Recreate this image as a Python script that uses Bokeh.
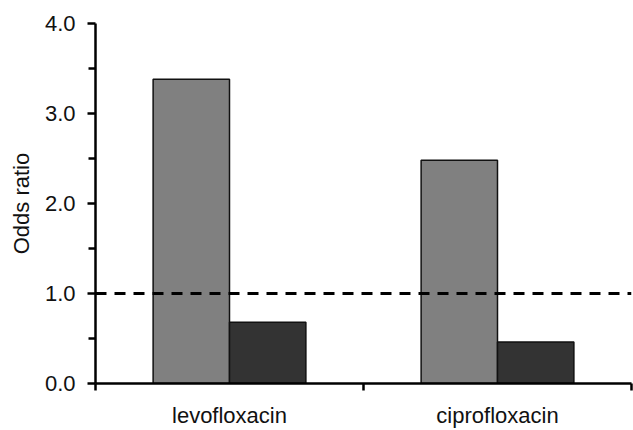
from bokeh.plotting import figure
from bokeh.models import Span, FixedTicker, ColumnDataSource, Range1d
from bokeh.embed import file_html
from bokeh.resources import INLINE

drugs = ["levofloxacin", "ciprofloxacin"]
series_a = [3.38, 2.48]   # grey bars
series_b = [0.68, 0.46]   # dark bars
y_ticks = [0.0, 1.0, 2.0, 3.0, 4.0]
y_tick_labels = ["0.0", "1.0", "2.0", "3.0", "4.0"]
ref_value = 1.0

BAR_W = 0.285
FONT = "Liberation Sans"

p = figure(width=633, height=430, output_backend="svg", toolbar_location=None,
           x_range=Range1d(0, len(drugs)), y_range=Range1d(0, 4),
           min_border_left=95, min_border_right=2, min_border_top=23, min_border_bottom=46)
p.outline_line_color = None
p.grid.visible = False
p.background_fill_color = "white"
p.border_fill_color = "white"

centers = [i + 0.5 for i in range(len(drugs))]
src_a = ColumnDataSource(dict(x=[c - BAR_W / 2 for c in centers], top=series_a))
src_b = ColumnDataSource(dict(x=[c + BAR_W / 2 for c in centers], top=series_b))
p.vbar(x="x", top="top", bottom=0, width=BAR_W, source=src_a,
       fill_color="#808080", line_color="#111111", line_width=1.5)
p.vbar(x="x", top="top", bottom=0, width=BAR_W, source=src_b,
       fill_color="#333333", line_color="#111111", line_width=1.5)

p.add_layout(Span(location=ref_value, dimension="width", line_color="black",
                  line_width=3, line_dash="11 8"))

# y axis
ya = p.yaxis[0]
ya.ticker = FixedTicker(ticks=y_ticks, minor_ticks=[t + 0.5 for t in y_ticks[:-1]])
ya.major_label_overrides = {t: l for t, l in zip(y_ticks, y_tick_labels)}
ya.axis_line_width = 2.5
ya.axis_line_color = "black"
ya.major_tick_line_width = 2.5
ya.minor_tick_line_width = 2.5
ya.major_tick_out = 8
ya.major_tick_in = 0
ya.minor_tick_out = 7
ya.minor_tick_in = 0
ya.major_label_text_font = FONT
ya.major_label_text_font_size = "22px"
ya.major_label_text_color = "#111111"
ya.major_label_standoff = 12
ya.axis_label = "Odds ratio"
ya.axis_label_text_font = FONT
ya.axis_label_text_font_style = "normal"
ya.axis_label_text_font_size = "22px"
ya.axis_label_text_color = "#111111"
ya.axis_label_standoff = 8

# x axis
xa = p.xaxis[0]
xa.ticker = FixedTicker(ticks=centers, minor_ticks=list(range(len(drugs) + 1)))
xa.major_label_overrides = {c: d for c, d in zip(centers, drugs)}
xa.axis_line_width = 2.5
xa.axis_line_color = "black"
xa.major_tick_out = 0
xa.major_tick_in = 0
xa.minor_tick_out = 7
xa.minor_tick_in = 0
xa.minor_tick_line_width = 2.5
xa.major_label_text_font = FONT
xa.major_label_text_font_size = "22px"
xa.major_label_text_color = "#111111"
xa.major_label_standoff = 12

open("out.html", "w").write(file_html(p, INLINE))
